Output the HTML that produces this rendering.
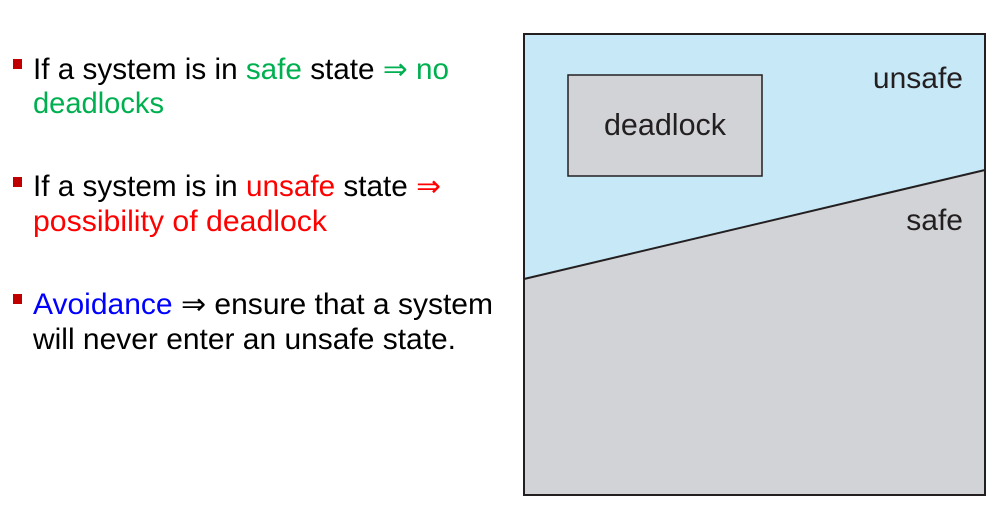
<!DOCTYPE html>
<html><head><meta charset="utf-8"><style>
html,body{margin:0;padding:0;background:#fff;width:1004px;height:509px;overflow:hidden}
</style></head><body>
<svg width="1004" height="509" xmlns="http://www.w3.org/2000/svg" style="font-family:'Liberation Sans',sans-serif">
<rect x="13" y="59" width="9" height="10" fill="#c00000"/>
<rect x="13" y="177" width="9" height="10" fill="#c00000"/>
<rect x="13" y="294" width="9" height="10" fill="#c00000"/>
<g font-size="29.5">
<text x="33" y="79" textLength="416" lengthAdjust="spacingAndGlyphs"><tspan fill="#000">If a system is in </tspan><tspan fill="#00b050">safe</tspan><tspan fill="#000"> state </tspan><tspan fill="#00b050">⇒ no</tspan></text>
<text x="33" y="113" textLength="131" lengthAdjust="spacingAndGlyphs" fill="#00b050">deadlocks</text>
<text x="33" y="196" textLength="408" lengthAdjust="spacingAndGlyphs"><tspan fill="#000">If a system is in </tspan><tspan fill="#ff0000">unsafe</tspan><tspan fill="#000"> state </tspan><tspan fill="#ff0000">⇒</tspan></text>
<text x="33" y="231" textLength="294" lengthAdjust="spacingAndGlyphs" fill="#ff0000">possibility of deadlock</text>
<text x="33" y="314" textLength="460" lengthAdjust="spacingAndGlyphs"><tspan fill="#0000ff">Avoidance</tspan><tspan fill="#000"> ⇒ ensure that a system</tspan></text>
<text x="33" y="349" textLength="423" lengthAdjust="spacingAndGlyphs" fill="#000">will never enter an unsafe state.</text>
</g>
<rect x="524" y="34" width="461" height="461" fill="#d1d3d6"/>
<polygon points="524,34 985,34 985,170 524,279" fill="#c6e8f7"/>
<line x1="524" y1="279" x2="985" y2="170" stroke="#231f20" stroke-width="2"/>
<rect x="524" y="34" width="461" height="461" fill="none" stroke="#231f20" stroke-width="2"/>
<rect x="568" y="75" width="194" height="101" fill="#d1d3d6" stroke="#231f20" stroke-width="1.5"/>
<text x="665" y="135" font-size="30.5" text-anchor="middle" fill="#231f20">deadlock</text>
<text x="963" y="88" font-size="30" text-anchor="end" fill="#231f20">unsafe</text>
<text x="963" y="230" font-size="30" text-anchor="end" fill="#231f20">safe</text>
</svg>
</body></html>
